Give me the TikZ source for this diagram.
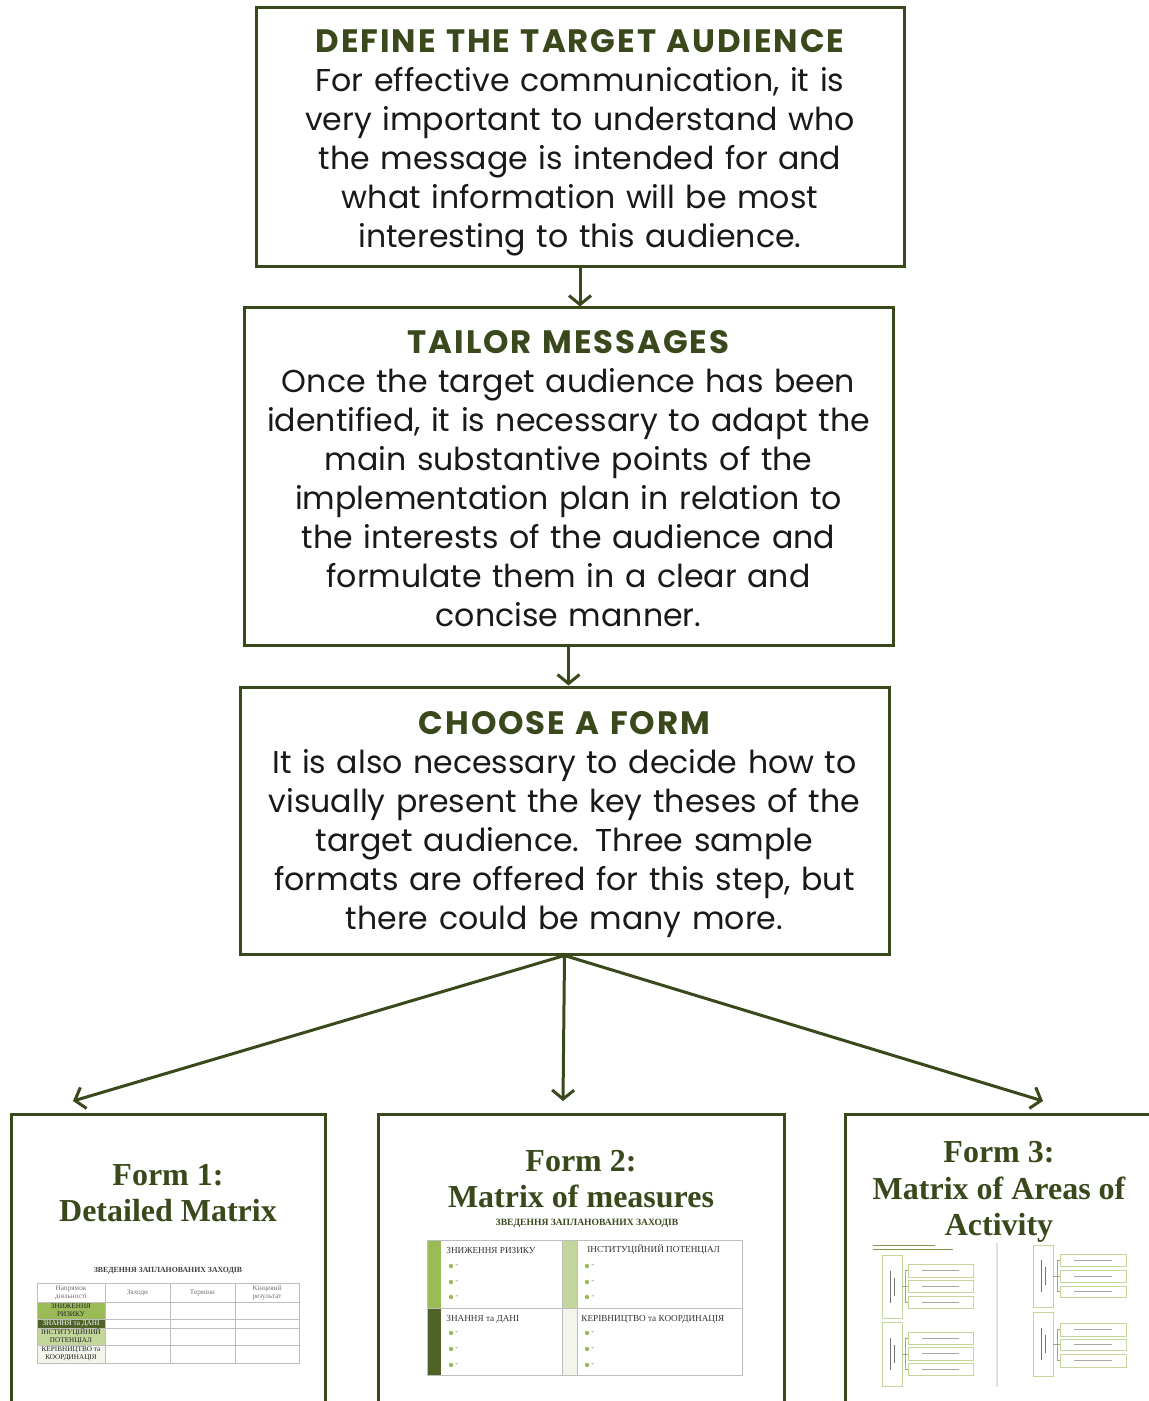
\documentclass[tikz,border=0pt]{standalone}
\usepackage{fontspec}
\setmainfont{Poppins}
\newfontfamily\headfont[LetterSpace=6]{Poppins}
\newfontfamily\formfont{Liberation Serif}
\usetikzlibrary{positioning,arrows.meta}

\definecolor{dkolive}{RGB}{58,73,28}
\definecolor{midleaf}{RGB}{155,187,89}
\definecolor{darkleaf}{RGB}{79,98,40}
\definecolor{lightleaf}{RGB}{195,214,155}
\definecolor{paleleaf}{RGB}{241,245,234}
\definecolor{gridgray}{RGB}{190,190,190}

% optional argument: extra room above the title
\newcommand{\steptitle}[2][0pt]{\rule{0pt}{\dimexpr 11.5pt+#1\relax}%
  \textcolor{dkolive}{\headfont\bfseries\fontsize{16.2}{19.5}\selectfont #2}}

\tikzset{
  stepbox/.style={draw=dkolive, line width=1.5pt, align=center, inner sep=0pt,
    text width=322pt, font=\fontsize{15.8}{19.5}\selectfont, text=black!90},
  flow/.style={draw=dkolive, line width=1.5pt, -{Straight Barb[length=4.5pt,width=11pt]}},
  formbox/.style={draw=dkolive, line width=1.5pt, inner sep=0pt},
  formtitle/.style={align=center, text=dkolive, inner sep=0pt,
    font=\formfont\bfseries\fontsize{16}{18.3}\selectfont},
  cell/.style={font=\formfont\fontsize{3.6}{4}\selectfont, text=black!55, align=center, inner sep=0pt},
  quadlabel/.style={font=\formfont\fontsize{4.6}{5}\selectfont, text=black!80, anchor=west, inner sep=0pt},
  thumbbox/.style={draw=lightleaf, line width=0.4pt},
  thumbline/.style={draw=black!35, line width=0.5pt},
}

\begin{document}
\begin{tikzpicture}[x=0.5pt, y=-0.5pt]

	\useasboundingbox[fill=white] (0,0) rectangle (1148,1401);

	%Steps
	\node[stepbox, minimum width=324pt, minimum height=129.5pt] (Define) at (580,137.5)
	  {\steptitle[5pt]{DEFINE THE TARGET AUDIENCE}\\
	   For effective communication, it is\\very important to understand who\\
	   the message is intended for and\\what information will be most\\
	   interesting to this audience.};

	\node[stepbox, minimum width=324.5pt, minimum height=168.5pt] (Tailor) at (568.5,476.5)
	  {\steptitle[2pt]{TAILOR MESSAGES}\\
	   Once the target audience has been\\identified, it is necessary to adapt the\\
	   main substantive points of the\\implementation plan in relation to\\
	   the interests of the audience and\\formulate them in a clear and\\
	   concise manner.};

	\node[stepbox, minimum width=324.5pt, minimum height=133.5pt] (Choose) at (564.5,820.5)
	  {\steptitle[4pt]{CHOOSE A FORM}\\
	   It is also necessary to decide how to\\visually present the key theses of the\\
	   target audience. Three sample\\formats are offered for this step, but\\
	   there could be many more.};

	%Forms (cut off by the lower edge)
	\node[formbox, minimum width=157pt, minimum height=173pt] (Form1) at (168,1287) {};
	\node[formbox, minimum width=203pt, minimum height=173pt] (Form2) at (581,1287) {};
	\node[formbox, minimum width=154pt, minimum height=173pt] (Form3) at (999,1287) {};

	\node[formtitle] (Title1) at (168,1193) {Form 1:\\Detailed Matrix};
	\node[formtitle] (Title2) at (581,1179) {Form 2:\\Matrix of measures};
	\node[formtitle] (Title3) at (999,1192) {Form 3:\\Matrix of Areas of\\Activity};

	%Arrows
	\coordinate (Tip1) at (73,1101);
	\coordinate (Tip2) at (563,1101);
	\coordinate (Tip3) at (1043,1101);

	\draw[flow] (Define.south) -- (Define.south |- Tailor.north);
	\draw[flow] (Tailor.south) -- (Tailor.south |- Choose.north);
	\draw[flow] (Choose.south) -- (Tip1);
	\draw[flow] (Choose.south) -- (Tip2);
	\draw[flow] (Choose.south) -- (Tip3);

	%%%%%%%%%%%%%%%%%%%%%%%%%%%%%%%%%%%%%%%%%%%%%%%%%%%%
	%Thumbnail of form 1
	\node[font=\formfont\bfseries\fontsize{3.9}{4}\selectfont, text=black!75] (Head1) at (168,1271)
	  {ЗВЕДЕННЯ ЗАПЛАНОВАНИХ ЗАХОДІВ};
	\fill[midleaf] (37,1302) rectangle (105,1319);
	\fill[darkleaf] (37,1319) rectangle (105,1328);
	\fill[lightleaf] (37,1328) rectangle (105,1345);
	\fill[paleleaf] (37,1345) rectangle (105,1363);
	\draw[gridgray, line width=0.4pt] (37,1283) rectangle (299,1363);
	\foreach \x in {105,170,235} \draw[gridgray, line width=0.4pt] (\x,1283) -- (\x,1363);
	\foreach \y in {1302,1319,1328,1345} \draw[gridgray, line width=0.4pt] (37,\y) -- (299,\y);
	\node[cell] at (71,1292.5) {Напрямок\\діяльності};
	\node[cell] at (137.5,1292.5) {Заходи};
	\node[cell] at (202.5,1292.5) {Терміни};
	\node[cell] at (267,1292.5) {Кінцевий\\результат};
	\node[cell, text=black!85] at (71,1310.5) {ЗНИЖЕННЯ\\РИЗИКУ};
	\node[cell, text=white] at (71,1323.5) {ЗНАННЯ та ДАНІ};
	\node[cell, text=black!85] at (71,1336.5) {ІНСТИТУЦІЙНИЙ\\ПОТЕНЦІАЛ};
	\node[cell, text=black!85] at (71,1354) {КЕРІВНИЦТВО та\\КООРДИНАЦІЯ};

	%Thumbnail of form 2
	\node[font=\formfont\bfseries\fontsize{4.8}{5}\selectfont, text=dkolive] (Head2) at (587,1223)
	  {ЗВЕДЕННЯ ЗАПЛАНОВАНИХ ЗАХОДІВ};
	\fill[midleaf] (427,1240) rectangle (441,1308);
	\fill[lightleaf] (562,1240) rectangle (577,1308);
	\fill[darkleaf] (427,1308) rectangle (441,1375);
	\fill[paleleaf] (562,1308) rectangle (577,1375);
	\draw[gridgray, line width=0.5pt] (427,1240) rectangle (742,1375);
	\draw[gridgray, line width=0.5pt] (427,1308) -- (742,1308);
	\draw[gridgray, line width=0.5pt] (562,1240) -- (562,1375);
	\draw[gridgray, line width=0.3pt] (577,1240) -- (577,1375);
	\node[quadlabel] at (446,1250) {ЗНИЖЕННЯ РИЗИКУ};
	\node[quadlabel] at (587,1250) {ІНСТИТУЦІЙНИЙ ПОТЕНЦІАЛ};
	\node[quadlabel] at (446,1319) {ЗНАННЯ та ДАНІ};
	\node[quadlabel] at (581,1319) {КЕРІВНИЦТВО та КООРДИНАЦІЯ};
	\foreach \x in {451,587}
	  \foreach \y in {1266,1282,1297,1333,1349,1365} {
	    \fill[midleaf] (\x,\y) circle (1.1pt);
	    \node[quadlabel, text=black!45] at (\x+4,\y) {-};
	  }

	%Thumbnail of form 3
	\draw[midleaf!80!black, line width=0.4pt] (873,1245) -- (935,1245);
	\draw[midleaf!80!black, line width=0.4pt] (873,1249) -- (953,1249);
	\draw[black!12, line width=1.2pt] (997,1243) -- (997,1387);
	% vertical boxes
	\foreach \xa/\xb/\ya/\yb in {882/902/1255/1318, 882/902/1322/1386, 1033/1053/1245/1307, 1033/1053/1312/1376} {
	  \draw[thumbbox] (\xa,\ya) rectangle (\xb,\yb);
	  \draw[black!55, line width=0.4pt] ({(\xa+\xb)/2-2},{(\ya+\yb)/2-16}) -- ({(\xa+\xb)/2-2},{(\ya+\yb)/2+16});
	  \draw[black!55, line width=0.4pt] ({(\xa+\xb)/2+2},{(\ya+\yb)/2-9}) -- ({(\xa+\xb)/2+2},{(\ya+\yb)/2+9});
	}
	% branch boxes
	\foreach \xa/\xb/\ya/\yb in {908/973/1264/1277, 908/973/1280/1292, 908/973/1296/1308,
	    908/973/1332/1344, 908/973/1347/1360, 908/973/1363/1375,
	    1060/1126/1254/1266, 1060/1126/1270/1282, 1060/1126/1286/1297,
	    1060/1126/1323/1336, 1060/1126/1339/1350, 1060/1126/1354/1367} {
	  \draw[thumbbox] (\xa,\ya) rectangle (\xb,\yb);
	  \draw[thumbline] ({\xa+14},{(\ya+\yb)/2}) -- ({\xb-14},{(\ya+\yb)/2});
	}
	% brackets
	\foreach \xv/\xs/\xe/\ym/\ya/\yb in {902/905/908/1286.5/1270.5/1302, 902/905/908/1354/1338/1369,
	    1053/1057/1060/1276/1260/1291.5, 1053/1057/1060/1344/1329.5/1360.5} {
	  \draw[lightleaf!80!black, line width=0.4pt] (\xv,\ym) -- (\xs,\ym);
	  \draw[lightleaf!80!black, line width=0.4pt] (\xe,\ya) -| (\xs,\yb) -- (\xe,\yb);
	  \draw[lightleaf!80!black, line width=0.4pt] (\xs,\ym) -- (\xe,\ym);
	}

\end{tikzpicture}
\end{document}
